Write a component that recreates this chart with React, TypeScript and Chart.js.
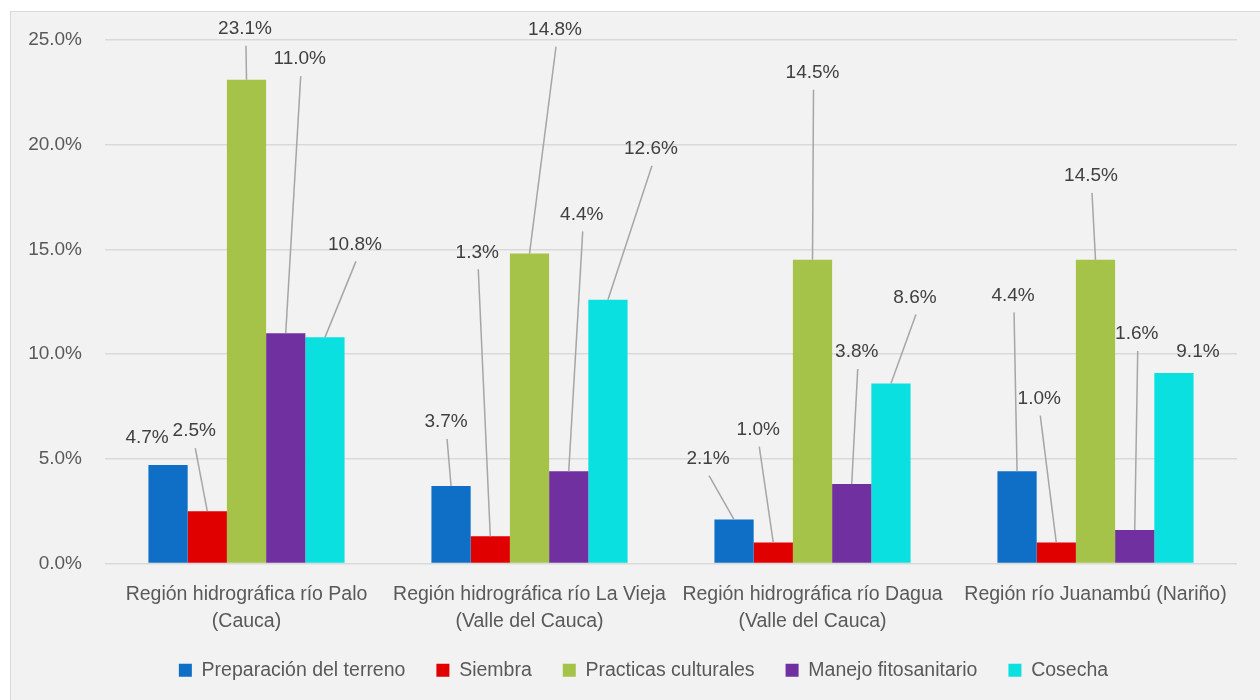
import React, { useEffect, useRef } from "react";
import { Chart, registerables } from "chart.js";

Chart.register(...registerables);

// Categories (multi-line axis labels)
const categories: string[][] = [
  ["Región hidrográfica río Palo", "(Cauca)"],
  ["Región hidrográfica río La Vieja", "(Valle del Cauca)"],
  ["Región hidrográfica río Dagua", "(Valle del Cauca)"],
  ["Región río Juanambú (Nariño)"],
];

const seriesNames = [
  "Preparación del terreno",
  "Siembra",
  "Practicas culturales",
  "Manejo fitosanitario",
  "Cosecha",
];

// Percent values per series, one per category
const preparacion = [4.7, 3.7, 2.1, 4.4];
const siembra = [2.5, 1.3, 1.0, 1.0];
const practicas = [23.1, 14.8, 14.5, 14.5];
const manejo = [11.0, 4.4, 3.8, 1.6];
const cosecha = [10.8, 12.6, 8.6, 9.1];

const yTickValues = [0, 5, 10, 15, 20, 25];

const seriesColors = ["#0F6FC6", "#E00000", "#A5C249", "#7030A0", "#0BE0E0"];

// Placement of each value label relative to the top-centre of its bar (px)
const labelOffsets: [number, number][][] = [
  [[-21, -27], [-5, -64], [-26, -61], [-4, -176]],
  [[-13, -80], [-13, -284], [-15, -113], [-17, -144]],
  [[-1.5, -51], [25.5, -224], [0, -187], [-4.5, -84]],
  [[14, -274], [13, -257], [5, -132], [2, -196]],
  [[30, -93], [43, -151], [24, -86], [24, -21]],
];

const seriesValues = [preparacion, siembra, practicas, manejo, cosecha];

const FONT = "'Liberation Sans', Arial, sans-serif";

const fmt = (v: number) => v.toFixed(1) + "%";

// Value labels with leader lines back to the bar tops
const valueLabels = {
  id: "valueLabels",
  afterDatasetsDraw(chart: any) {
    const ctx: CanvasRenderingContext2D = chart.ctx;
    ctx.save();
    ctx.font = `19px ${FONT}`;
    ctx.textAlign = "center";
    ctx.textBaseline = "middle";
    chart.data.datasets.forEach((ds: any, si: number) => {
      const meta = chart.getDatasetMeta(si);
      meta.data.forEach((bar: any, ci: number) => {
        const [dx, dy] = labelOffsets[si][ci];
        const tx = bar.x + dx;
        const ty = bar.y + dy;
        if (Math.hypot(dx, dy) > 40) {
          ctx.strokeStyle = "#A6A6A6";
          ctx.lineWidth = 1.5;
          ctx.beginPath();
          ctx.moveTo(tx + 1, ty + 17);
          ctx.lineTo(bar.x, bar.y);
          ctx.stroke();
        }
        ctx.fillStyle = "#404040";
        ctx.fillText(fmt(ds.data[ci]), tx, ty);
      });
    });
    ctx.restore();
  },
};

// Let the two-line category labels run below the axis box, and centre the legend row
const layoutTweaks = {
  id: "layoutTweaks",
  afterLayout(chart: any) {
    const xScale = chart.scales.x;
    xScale.bottom = chart.height;
    const legend = chart.legend;
    if (legend) {
      legend.left += 20;
      legend.right += 20;
    }
  },
};

export default function App() {
  const canvasRef = useRef<HTMLCanvasElement | null>(null);

  useEffect(() => {
    if (!canvasRef.current) return;
    const chart = new Chart(canvasRef.current, {
      type: "bar",
      data: {
        labels: categories,
        datasets: seriesNames.map((name, i) => ({
          label: name,
          data: seriesValues[i],
          backgroundColor: seriesColors[i],
          borderWidth: 0,
          categoryPercentage: 0.693,
          barPercentage: 1,
        })),
      },
      options: {
        animation: false,
        responsive: false,
        layout: { padding: { left: 10, right: 23, top: 40, bottom: 10 } },
        plugins: {
          tooltip: { enabled: false },
          legend: {
            position: "bottom",
            labels: {
              boxWidth: 13,
              boxHeight: 13,
              padding: 31,
              color: "#595959",
              font: { family: FONT, size: 19.5 },
            },
          },
        },
        scales: {
          x: {
            grid: { display: false },
            border: { display: false },
            ticks: {
              color: "#595959",
              font: { family: FONT, size: 19.5, lineHeight: 1.385 },
              padding: 10,
              autoSkip: false,
              maxRotation: 0,
              minRotation: 0,
            },
            afterFit: (axis: any) => {
              axis.height = 66;
            },
          },
          y: {
            min: 0,
            max: 25,
            afterBuildTicks: (axis: any) => {
              axis.ticks = yTickValues.map((v) => ({ value: v }));
            },
            grid: { color: "#D9D9D9", lineWidth: 1.5, drawTicks: false },
            border: { display: false },
            ticks: {
              color: "#595959",
              font: { family: FONT, size: 19 },
              padding: 23,
              callback: (v: any) => fmt(Number(v)),
            },
            afterFit: (axis: any) => {
              axis.width = 95;
            },
          },
        },
      },
      plugins: [valueLabels, layoutTweaks],
    });
    return () => chart.destroy();
  }, []);

  return (
    <>
      <div
        style={{
          position: "fixed",
          left: 10,
          top: 11,
          width: 1270,
          height: 700,
          boxSizing: "border-box",
          border: "1px solid #D9D9D9",
          background: "#F2F2F2",
        }}
      />
      <canvas
        ref={canvasRef}
        width={1260}
        height={700}
        style={{ position: "fixed", left: 0, top: 0, width: 1260, height: 700 }}
      />
    </>
  );
}
